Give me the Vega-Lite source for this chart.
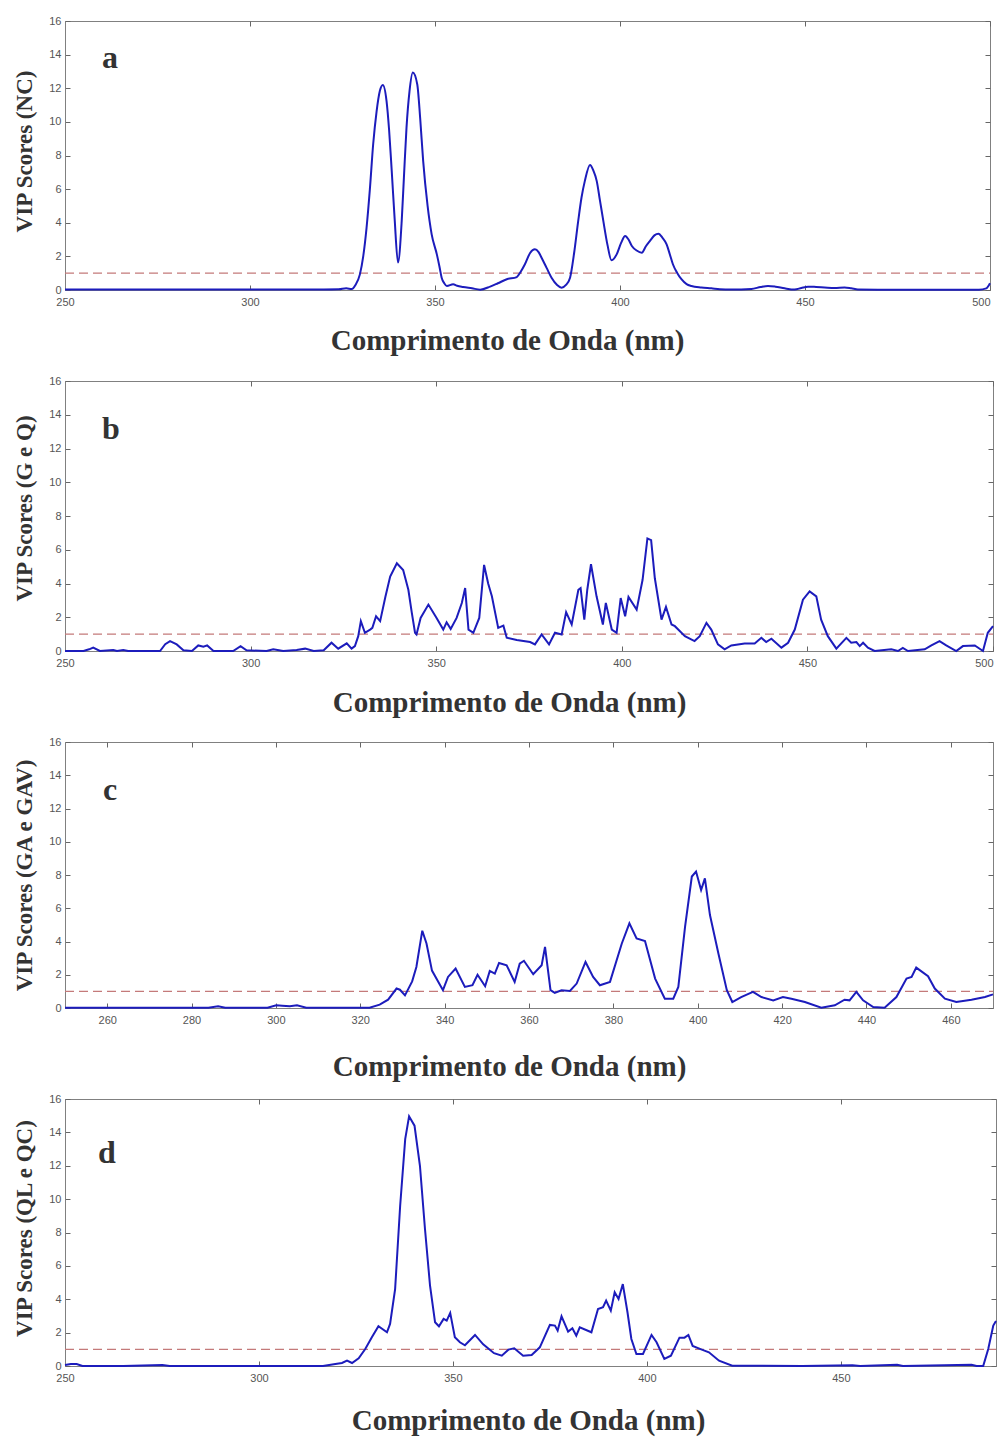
{
  "$schema": "https://vega.github.io/schema/vega-lite/v6.json",
  "background": "white",
  "padding": {"left": 12, "top": 14, "right": 2, "bottom": 2},
  "bounds": "flush",
  "spacing": 91,
  "datasets": {
    "a": [
      {"nm":250,"v":0.03},{"nm":260,"v":0.03},{"nm":270,"v":0.03},{"nm":280,"v":0.03},{"nm":290,"v":0.03},{"nm":300,"v":0.03},{"nm":310,"v":0.03},{"nm":320,"v":0.03},{"nm":324,"v":0.04},{"nm":326,"v":0.1},{"nm":327.5,"v":0.06},{"nm":328.5,"v":0.3},{"nm":329.7,"v":0.93},{"nm":330.6,"v":2.0},{"nm":331.5,"v":3.7},{"nm":332.4,"v":6.0},{"nm":333.3,"v":8.7},{"nm":334.2,"v":10.6},{"nm":335.1,"v":11.85},{"nm":335.9,"v":12.2},{"nm":336.9,"v":11.25},{"nm":337.6,"v":9.5},{"nm":338.3,"v":7.1},{"nm":339.1,"v":4.2},{"nm":340.0,"v":1.63},{"nm":341.0,"v":4.1},{"nm":341.6,"v":6.7},{"nm":342.3,"v":9.66},{"nm":343.1,"v":11.8},{"nm":344.0,"v":12.93},{"nm":345.2,"v":12.24},{"nm":346.0,"v":10.2},{"nm":346.8,"v":7.68},{"nm":348.0,"v":5.0},{"nm":349.1,"v":3.31},{"nm":350.5,"v":2.12},{"nm":351.2,"v":1.4},{"nm":351.8,"v":0.73},{"nm":352.5,"v":0.4},{"nm":353.2,"v":0.24},{"nm":354.9,"v":0.34},{"nm":356,"v":0.25},{"nm":357.6,"v":0.18},{"nm":360,"v":0.1},{"nm":362.2,"v":0.02},{"nm":364.9,"v":0.2},{"nm":367,"v":0.4},{"nm":369.4,"v":0.64},{"nm":372.1,"v":0.77},{"nm":373.2,"v":1.1},{"nm":374.3,"v":1.53},{"nm":375.7,"v":2.2},{"nm":377.0,"v":2.42},{"nm":378.0,"v":2.25},{"nm":378.8,"v":1.92},{"nm":380.2,"v":1.3},{"nm":381.5,"v":0.73},{"nm":383,"v":0.3},{"nm":384.2,"v":0.14},{"nm":385.4,"v":0.3},{"nm":386.5,"v":0.73},{"nm":387.6,"v":2.2},{"nm":388.7,"v":4.1},{"nm":389.6,"v":5.5},{"nm":390.5,"v":6.49},{"nm":391.9,"v":7.44},{"nm":392.8,"v":7.1},{"nm":393.7,"v":6.49},{"nm":394.6,"v":5.3},{"nm":395.5,"v":4.1},{"nm":396.6,"v":2.7},{"nm":397.7,"v":1.77},{"nm":399.1,"v":2.12},{"nm":400.3,"v":2.8},{"nm":401.4,"v":3.21},{"nm":402.3,"v":3.0},{"nm":403.2,"v":2.62},{"nm":404.5,"v":2.35},{"nm":405.9,"v":2.22},{"nm":407,"v":2.6},{"nm":408.1,"v":2.92},{"nm":409.3,"v":3.25},{"nm":410.4,"v":3.35},{"nm":411.5,"v":3.1},{"nm":412.6,"v":2.72},{"nm":413.5,"v":2.1},{"nm":414.3,"v":1.53},{"nm":415.5,"v":1.0},{"nm":416.6,"v":0.64},{"nm":418,"v":0.35},{"nm":419.3,"v":0.24},{"nm":422,"v":0.15},{"nm":424.7,"v":0.1},{"nm":427,"v":0.05},{"nm":430,"v":0.03},{"nm":435.5,"v":0.06},{"nm":438,"v":0.18},{"nm":440,"v":0.24},{"nm":442,"v":0.2},{"nm":444.5,"v":0.1},{"nm":447.2,"v":0.03},{"nm":449,"v":0.12},{"nm":450.8,"v":0.2},{"nm":453,"v":0.18},{"nm":455.3,"v":0.15},{"nm":458,"v":0.12},{"nm":460.7,"v":0.15},{"nm":462.5,"v":0.1},{"nm":464.3,"v":0.03},{"nm":470,"v":0.02},{"nm":480,"v":0.02},{"nm":490,"v":0.02},{"nm":497,"v":0.02},{"nm":499,"v":0.1},{"nm":500,"v":0.4}
    ],
    "b": [
      {"nm":250,"v":0},{"nm":255,"v":0},{"nm":256.5,"v":0.1},{"nm":257.6,"v":0.2},{"nm":259.4,"v":0},{"nm":263,"v":0.06},{"nm":264,"v":0},{"nm":265.7,"v":0.06},{"nm":267,"v":0},{"nm":275.6,"v":0},{"nm":277,"v":0.4},{"nm":278.3,"v":0.59},{"nm":280.1,"v":0.39},{"nm":281.9,"v":0.04},{"nm":284.2,"v":0},{"nm":285.9,"v":0.33},{"nm":287.3,"v":0.25},{"nm":288.3,"v":0.33},{"nm":290,"v":0},{"nm":295.3,"v":0},{"nm":297.3,"v":0.29},{"nm":298.9,"v":0.04},{"nm":304.3,"v":0},{"nm":306.1,"v":0.1},{"nm":308.8,"v":0},{"nm":312.4,"v":0.06},{"nm":314.7,"v":0.14},{"nm":317,"v":0},{"nm":319.7,"v":0.04},{"nm":321.8,"v":0.49},{"nm":323.6,"v":0.14},{"nm":325.9,"v":0.45},{"nm":327.2,"v":0.14},{"nm":328.1,"v":0.29},{"nm":329,"v":0.88},{"nm":329.7,"v":1.77},{"nm":330.8,"v":1.08},{"nm":332.2,"v":1.27},{"nm":332.8,"v":1.37},{"nm":333.8,"v":2.06},{"nm":334.9,"v":1.77},{"nm":336.3,"v":3.2},{"nm":337.6,"v":4.41},{"nm":339.4,"v":5.2},{"nm":341.1,"v":4.8},{"nm":342.5,"v":3.63},{"nm":343.4,"v":2.3},{"nm":344.3,"v":1.08},{"nm":344.7,"v":0.98},{"nm":345.8,"v":1.96},{"nm":347.9,"v":2.75},{"nm":350.1,"v":1.96},{"nm":351.9,"v":1.27},{"nm":352.8,"v":1.7},{"nm":353.9,"v":1.31},{"nm":355.5,"v":1.96},{"nm":356.9,"v":2.84},{"nm":357.8,"v":3.73},{"nm":358.7,"v":1.27},{"nm":360.0,"v":1.08},{"nm":361.6,"v":1.96},{"nm":362.9,"v":5.1},{"nm":364.0,"v":4.0},{"nm":365.0,"v":3.24},{"nm":366.7,"v":1.37},{"nm":368.1,"v":1.5},{"nm":369.0,"v":0.79},{"nm":371.7,"v":0.65},{"nm":375.3,"v":0.53},{"nm":376.6,"v":0.39},{"nm":378.4,"v":0.98},{"nm":380.4,"v":0.39},{"nm":382.0,"v":1.08},{"nm":383.8,"v":0.98},{"nm":385.0,"v":2.3},{"nm":386.5,"v":1.57},{"nm":388.3,"v":3.63},{"nm":388.9,"v":3.73},{"nm":389.9,"v":1.86},{"nm":390.7,"v":3.63},{"nm":391.7,"v":5.14},{"nm":393.2,"v":3.24},{"nm":394.9,"v":1.57},{"nm":395.7,"v":2.85},{"nm":397.3,"v":1.27},{"nm":398.6,"v":1.08},{"nm":399.7,"v":3.14},{"nm":400.9,"v":2.06},{"nm":401.8,"v":3.2},{"nm":404.0,"v":2.45},{"nm":405.6,"v":4.22},{"nm":406.9,"v":6.67},{"nm":407.9,"v":6.57},{"nm":408.9,"v":4.31},{"nm":410.7,"v":1.86},{"nm":411.9,"v":2.61},{"nm":413.4,"v":1.57},{"nm":414.3,"v":1.47},{"nm":415.2,"v":1.27},{"nm":417.0,"v":0.88},{"nm":419.6,"v":0.59},{"nm":421.0,"v":0.88},{"nm":422.8,"v":1.67},{"nm":424.1,"v":1.27},{"nm":425.9,"v":0.39},{"nm":427.7,"v":0.1},{"nm":429.5,"v":0.33},{"nm":433.1,"v":0.45},{"nm":435.8,"v":0.45},{"nm":437.6,"v":0.78},{"nm":438.9,"v":0.53},{"nm":440.3,"v":0.73},{"nm":443.0,"v":0.2},{"nm":444.8,"v":0.49},{"nm":446.6,"v":1.27},{"nm":448.8,"v":3.04},{"nm":450.6,"v":3.53},{"nm":452.4,"v":3.24},{"nm":453.7,"v":1.86},{"nm":455.5,"v":0.88},{"nm":457.8,"v":0.14},{"nm":460.5,"v":0.78},{"nm":461.8,"v":0.49},{"nm":463.2,"v":0.53},{"nm":464.1,"v":0.29},{"nm":465.0,"v":0.49},{"nm":466.3,"v":0.2},{"nm":468.1,"v":0},{"nm":472.6,"v":0.1},{"nm":474.4,"v":0},{"nm":475.7,"v":0.18},{"nm":477.1,"v":0},{"nm":481.6,"v":0.1},{"nm":483.4,"v":0.33},{"nm":485.6,"v":0.59},{"nm":487.4,"v":0.33},{"nm":490.1,"v":0},{"nm":491.9,"v":0.29},{"nm":495.1,"v":0.33},{"nm":497.3,"v":0},{"nm":498.6,"v":1.08},{"nm":500,"v":1.47}
    ],
    "c": [
      {"nm":250,"v":0.02},{"nm":270,"v":0.02},{"nm":284,"v":0.02},{"nm":286.3,"v":0.1},{"nm":288,"v":0.02},{"nm":298,"v":0.02},{"nm":300.1,"v":0.16},{"nm":301.5,"v":0.14},{"nm":303.3,"v":0.1},{"nm":305,"v":0.16},{"nm":307.2,"v":0.02},{"nm":322.2,"v":0.02},{"nm":324.6,"v":0.2},{"nm":326.6,"v":0.5},{"nm":328.6,"v":1.17},{"nm":329.4,"v":1.1},{"nm":330.6,"v":0.76},{"nm":332.3,"v":1.6},{"nm":333.3,"v":2.47},{"nm":334.7,"v":4.65},{"nm":335.7,"v":3.88},{"nm":337.0,"v":2.25},{"nm":339.6,"v":1.07},{"nm":340.8,"v":1.87},{"nm":342.6,"v":2.37},{"nm":344.8,"v":1.27},{"nm":346.6,"v":1.37},{"nm":347.8,"v":2.0},{"nm":349.6,"v":1.31},{"nm":350.7,"v":2.23},{"nm":351.9,"v":2.07},{"nm":352.9,"v":2.71},{"nm":354.7,"v":2.57},{"nm":356.6,"v":1.57},{"nm":357.8,"v":2.67},{"nm":358.8,"v":2.84},{"nm":361.0,"v":2.03},{"nm":363.0,"v":2.57},{"nm":363.8,"v":3.68},{"nm":365.1,"v":1.07},{"nm":366.1,"v":0.91},{"nm":367.7,"v":1.07},{"nm":369.7,"v":1.03},{"nm":371.3,"v":1.47},{"nm":373.4,"v":2.77},{"nm":375.2,"v":1.87},{"nm":376.8,"v":1.37},{"nm":379.2,"v":1.57},{"nm":382.0,"v":3.88},{"nm":383.8,"v":5.09},{"nm":385.5,"v":4.18},{"nm":387.5,"v":4.03},{"nm":389.9,"v":1.77},{"nm":392.2,"v":0.56},{"nm":394.2,"v":0.56},{"nm":395.4,"v":1.27},{"nm":397.0,"v":4.89},{"nm":398.6,"v":7.91},{"nm":399.6,"v":8.21},{"nm":400.8,"v":7.1},{"nm":401.7,"v":7.8},{"nm":402.9,"v":5.59},{"nm":404.9,"v":3.28},{"nm":406.9,"v":1.07},{"nm":408.2,"v":0.36},{"nm":410.3,"v":0.66},{"nm":413.1,"v":0.97},{"nm":415.1,"v":0.66},{"nm":417.9,"v":0.46},{"nm":420.2,"v":0.66},{"nm":422.2,"v":0.56},{"nm":425.4,"v":0.36},{"nm":429.3,"v":0.02},{"nm":432.5,"v":0.16},{"nm":434.8,"v":0.5},{"nm":436.0,"v":0.46},{"nm":437.6,"v":0.97},{"nm":439.2,"v":0.46},{"nm":441.6,"v":0.06},{"nm":444.3,"v":0.02},{"nm":447.1,"v":0.66},{"nm":449.5,"v":1.77},{"nm":450.7,"v":1.87},{"nm":451.8,"v":2.43},{"nm":454.6,"v":1.91},{"nm":456.2,"v":1.17},{"nm":458.6,"v":0.56},{"nm":461.3,"v":0.36},{"nm":464.9,"v":0.5},{"nm":468.1,"v":0.66},{"nm":470,"v":0.82}
    ],
    "d": [
      {"nm":250,"v":0.06},{"nm":251.5,"v":0.12},{"nm":253,"v":0.12},{"nm":254.5,"v":0},{"nm":265,"v":0},{"nm":275.1,"v":0.06},{"nm":277,"v":0},{"nm":290,"v":0},{"nm":300,"v":0},{"nm":310,"v":0},{"nm":316.5,"v":0},{"nm":319.7,"v":0.12},{"nm":321.4,"v":0.18},{"nm":322.7,"v":0.32},{"nm":324.0,"v":0.18},{"nm":325.7,"v":0.46},{"nm":327.4,"v":1.02},{"nm":329.1,"v":1.72},{"nm":330.8,"v":2.38},{"nm":333.0,"v":2.02},{"nm":333.8,"v":2.52},{"nm":335.1,"v":4.61},{"nm":336.4,"v":9.6},{"nm":337.7,"v":13.6},{"nm":338.7,"v":14.96},{"nm":340.1,"v":14.4},{"nm":341.5,"v":12.0},{"nm":342.8,"v":8.21},{"nm":344.1,"v":4.81},{"nm":345.4,"v":2.62},{"nm":346.4,"v":2.38},{"nm":347.6,"v":2.82},{"nm":348.4,"v":2.72},{"nm":349.3,"v":3.18},{"nm":350.5,"v":1.72},{"nm":351.8,"v":1.42},{"nm":353.1,"v":1.24},{"nm":355.7,"v":1.86},{"nm":357.8,"v":1.3},{"nm":360.6,"v":0.77},{"nm":362.6,"v":0.62},{"nm":364.3,"v":0.98},{"nm":365.8,"v":1.06},{"nm":368.1,"v":0.62},{"nm":370.3,"v":0.66},{"nm":372.4,"v":1.12},{"nm":375.0,"v":2.46},{"nm":376.3,"v":2.42},{"nm":377.0,"v":2.12},{"nm":378.0,"v":2.98},{"nm":379.7,"v":2.06},{"nm":380.8,"v":2.26},{"nm":381.8,"v":1.82},{"nm":382.7,"v":2.32},{"nm":385.7,"v":2.02},{"nm":387.4,"v":3.42},{"nm":388.7,"v":3.52},{"nm":389.5,"v":3.92},{"nm":390.7,"v":3.32},{"nm":391.7,"v":4.42},{"nm":392.7,"v":4.02},{"nm":393.8,"v":4.91},{"nm":395.0,"v":3.22},{"nm":396.0,"v":1.62},{"nm":397.3,"v":0.72},{"nm":399.0,"v":0.72},{"nm":401.2,"v":1.86},{"nm":402.5,"v":1.42},{"nm":404.5,"v":0.42},{"nm":406.2,"v":0.62},{"nm":408.4,"v":1.7},{"nm":409.7,"v":1.7},{"nm":410.7,"v":1.86},{"nm":411.8,"v":1.2},{"nm":414.0,"v":1.0},{"nm":416.0,"v":0.82},{"nm":418.6,"v":0.32},{"nm":422.0,"v":0.02},{"nm":440,"v":0},{"nm":453,"v":0.05},{"nm":455,"v":0},{"nm":464.5,"v":0.08},{"nm":466,"v":0},{"nm":483.7,"v":0.08},{"nm":485,"v":0},{"nm":486.7,"v":0},{"nm":488.0,"v":1.02},{"nm":489.3,"v":2.42},{"nm":490,"v":2.7}
    ]
  },
  "vconcat": [
    {
      "width": 925, "height": 269,
      "data": {"name": "a"},
      "title": {"text": "a", "dx": 37, "offset": -60},
      "resolve": {"axis": {"x": "independent", "y": "independent"}},
      "layer": [
        {
          "mark": {"type": "line", "color": "#c47a7a", "strokeWidth": 1.2, "strokeDash": [9, 5]},
          "encoding": {
            "x": {"field": "nm", "type": "quantitative", "scale": {"domain": [250, 500], "nice": false, "zero": false}, "axis": {"orient": "top", "values": [250, 300, 350, 400, 450, 500], "labels": false, "title": null, "domain": false}},
            "y": {"datum": 1, "type": "quantitative", "scale": {"domain": [0, 16], "nice": false}, "axis": {"orient": "right", "values": [0, 2, 4, 6, 8, 10, 12, 14, 16], "labels": false, "title": null, "domain": false}}
          }
        },
        {
          "mark": {"type": "line", "color": "#1c1cbc", "strokeWidth": 2, "interpolate": "monotone"},
          "encoding": {
            "x": {"field": "nm", "type": "quantitative", "axis": {"orient": "bottom", "values": [250, 300, 350, 400, 450, 500], "title": "Comprimento de Onda (nm)", "titleX": 442, "titleY": 59, "labelAlign": {"condition": {"test": "datum.value >= 500", "value": "right"}, "value": "center"}}},
            "y": {"field": "v", "type": "quantitative", "axis": {"orient": "left", "values": [0, 2, 4, 6, 8, 10, 12, 14, 16], "title": "VIP Scores (NC)", "titleX": -34, "titleY": 130}}
          }
        }
      ]
    },
    {
      "width": 928, "height": 270,
      "data": {"name": "b"},
      "title": {"text": "b", "dx": 37, "offset": -71},
      "resolve": {"axis": {"x": "independent", "y": "independent"}},
      "layer": [
        {
          "mark": {"type": "line", "color": "#c47a7a", "strokeWidth": 1.2, "strokeDash": [9, 5]},
          "encoding": {
            "x": {"field": "nm", "type": "quantitative", "scale": {"domain": [250, 500], "nice": false, "zero": false}, "axis": {"orient": "top", "values": [250, 300, 350, 400, 450, 500], "labels": false, "title": null, "domain": false}},
            "y": {"datum": 1, "type": "quantitative", "scale": {"domain": [0, 16], "nice": false}, "axis": {"orient": "right", "values": [0, 2, 4, 6, 8, 10, 12, 14, 16], "labels": false, "title": null, "domain": false}}
          }
        },
        {
          "mark": {"type": "line", "color": "#1c1cbc", "strokeWidth": 2},
          "encoding": {
            "x": {"field": "nm", "type": "quantitative", "axis": {"orient": "bottom", "values": [250, 300, 350, 400, 450, 500], "title": "Comprimento de Onda (nm)", "titleX": 444, "titleY": 60, "labelAlign": {"condition": {"test": "datum.value >= 500", "value": "right"}, "value": "center"}}},
            "y": {"field": "v", "type": "quantitative", "axis": {"orient": "left", "values": [0, 2, 4, 6, 8, 10, 12, 14, 16], "title": "VIP Scores (G e Q)", "titleX": -34, "titleY": 127}}
          }
        }
      ]
    },
    {
      "width": 928, "height": 266,
      "data": {"name": "c"},
      "title": {"text": "c", "dx": 38, "offset": -71},
      "resolve": {"axis": {"x": "independent", "y": "independent"}},
      "layer": [
        {
          "mark": {"type": "line", "color": "#c47a7a", "strokeWidth": 1.2, "strokeDash": [9, 5]},
          "encoding": {
            "x": {"field": "nm", "type": "quantitative", "scale": {"domain": [250, 470], "nice": false, "zero": false}, "axis": {"orient": "top", "values": [260, 280, 300, 320, 340, 360, 380, 400, 420, 440, 460], "labels": false, "title": null, "domain": false}},
            "y": {"datum": 1, "type": "quantitative", "scale": {"domain": [0, 16], "nice": false}, "axis": {"orient": "right", "values": [0, 2, 4, 6, 8, 10, 12, 14, 16], "labels": false, "title": null, "domain": false}}
          }
        },
        {
          "mark": {"type": "line", "color": "#1c1cbc", "strokeWidth": 2},
          "encoding": {
            "x": {"field": "nm", "type": "quantitative", "axis": {"orient": "bottom", "values": [260, 280, 300, 320, 340, 360, 380, 400, 420, 440, 460], "title": "Comprimento de Onda (nm)", "titleX": 444, "titleY": 67}},
            "y": {"field": "v", "type": "quantitative", "axis": {"orient": "left", "values": [0, 2, 4, 6, 8, 10, 12, 14, 16], "title": "VIP Scores (GA e GAV)", "titleX": -34, "titleY": 133}}
          }
        }
      ]
    },
    {
      "width": 931, "height": 267,
      "data": {"name": "d"},
      "title": {"text": "d", "dx": 33, "offset": -77},
      "resolve": {"axis": {"x": "independent", "y": "independent"}},
      "layer": [
        {
          "mark": {"type": "line", "color": "#c47a7a", "strokeWidth": 1.2, "strokeDash": [9, 5]},
          "encoding": {
            "x": {"field": "nm", "type": "quantitative", "scale": {"domain": [250, 490], "nice": false, "zero": false}, "axis": {"orient": "top", "values": [250, 300, 350, 400, 450], "labels": false, "title": null, "domain": false}},
            "y": {"datum": 1, "type": "quantitative", "scale": {"domain": [0, 16], "nice": false}, "axis": {"orient": "right", "values": [0, 2, 4, 6, 8, 10, 12, 14, 16], "labels": false, "title": null, "domain": false}}
          }
        },
        {
          "mark": {"type": "line", "color": "#1c1cbc", "strokeWidth": 2},
          "encoding": {
            "x": {"field": "nm", "type": "quantitative", "axis": {"orient": "bottom", "values": [250, 300, 350, 400, 450], "title": "Comprimento de Onda (nm)", "titleX": 463, "titleY": 63}},
            "y": {"field": "v", "type": "quantitative", "axis": {"orient": "left", "values": [0, 2, 4, 6, 8, 10, 12, 14, 16], "title": "VIP Scores (QL e QC)", "titleX": -34, "titleY": 129}}
          }
        }
      ]
    }
  ],
  "config": {
    "view": {"stroke": "#808080", "strokeWidth": 1},
    "axis": {
      "grid": false,
      "labelFont": "Liberation Sans", "labelFontSize": 11, "labelColor": "#555555",
      "labelFlush": false, "labelOverlap": false,
      "tickColor": "#666666", "tickSize": -5,
      "domainColor": "#808080",
      "titleFont": "Liberation Serif", "titleFontWeight": "bold", "titleColor": "#333333",
      "titleBaseline": "alphabetic", "titleAlign": "center"
    },
    "axisX": {"labelPadding": 11, "titleFontSize": 29},
    "axisY": {"labelPadding": 9, "titleFontSize": 23, "titleAngle": -90},
    "title": {
      "anchor": "start", "frame": "group", "orient": "top",
      "font": "Liberation Serif", "fontWeight": "bold", "fontSize": 32,
      "color": "#333333", "baseline": "alphabetic"
    }
  }
}
